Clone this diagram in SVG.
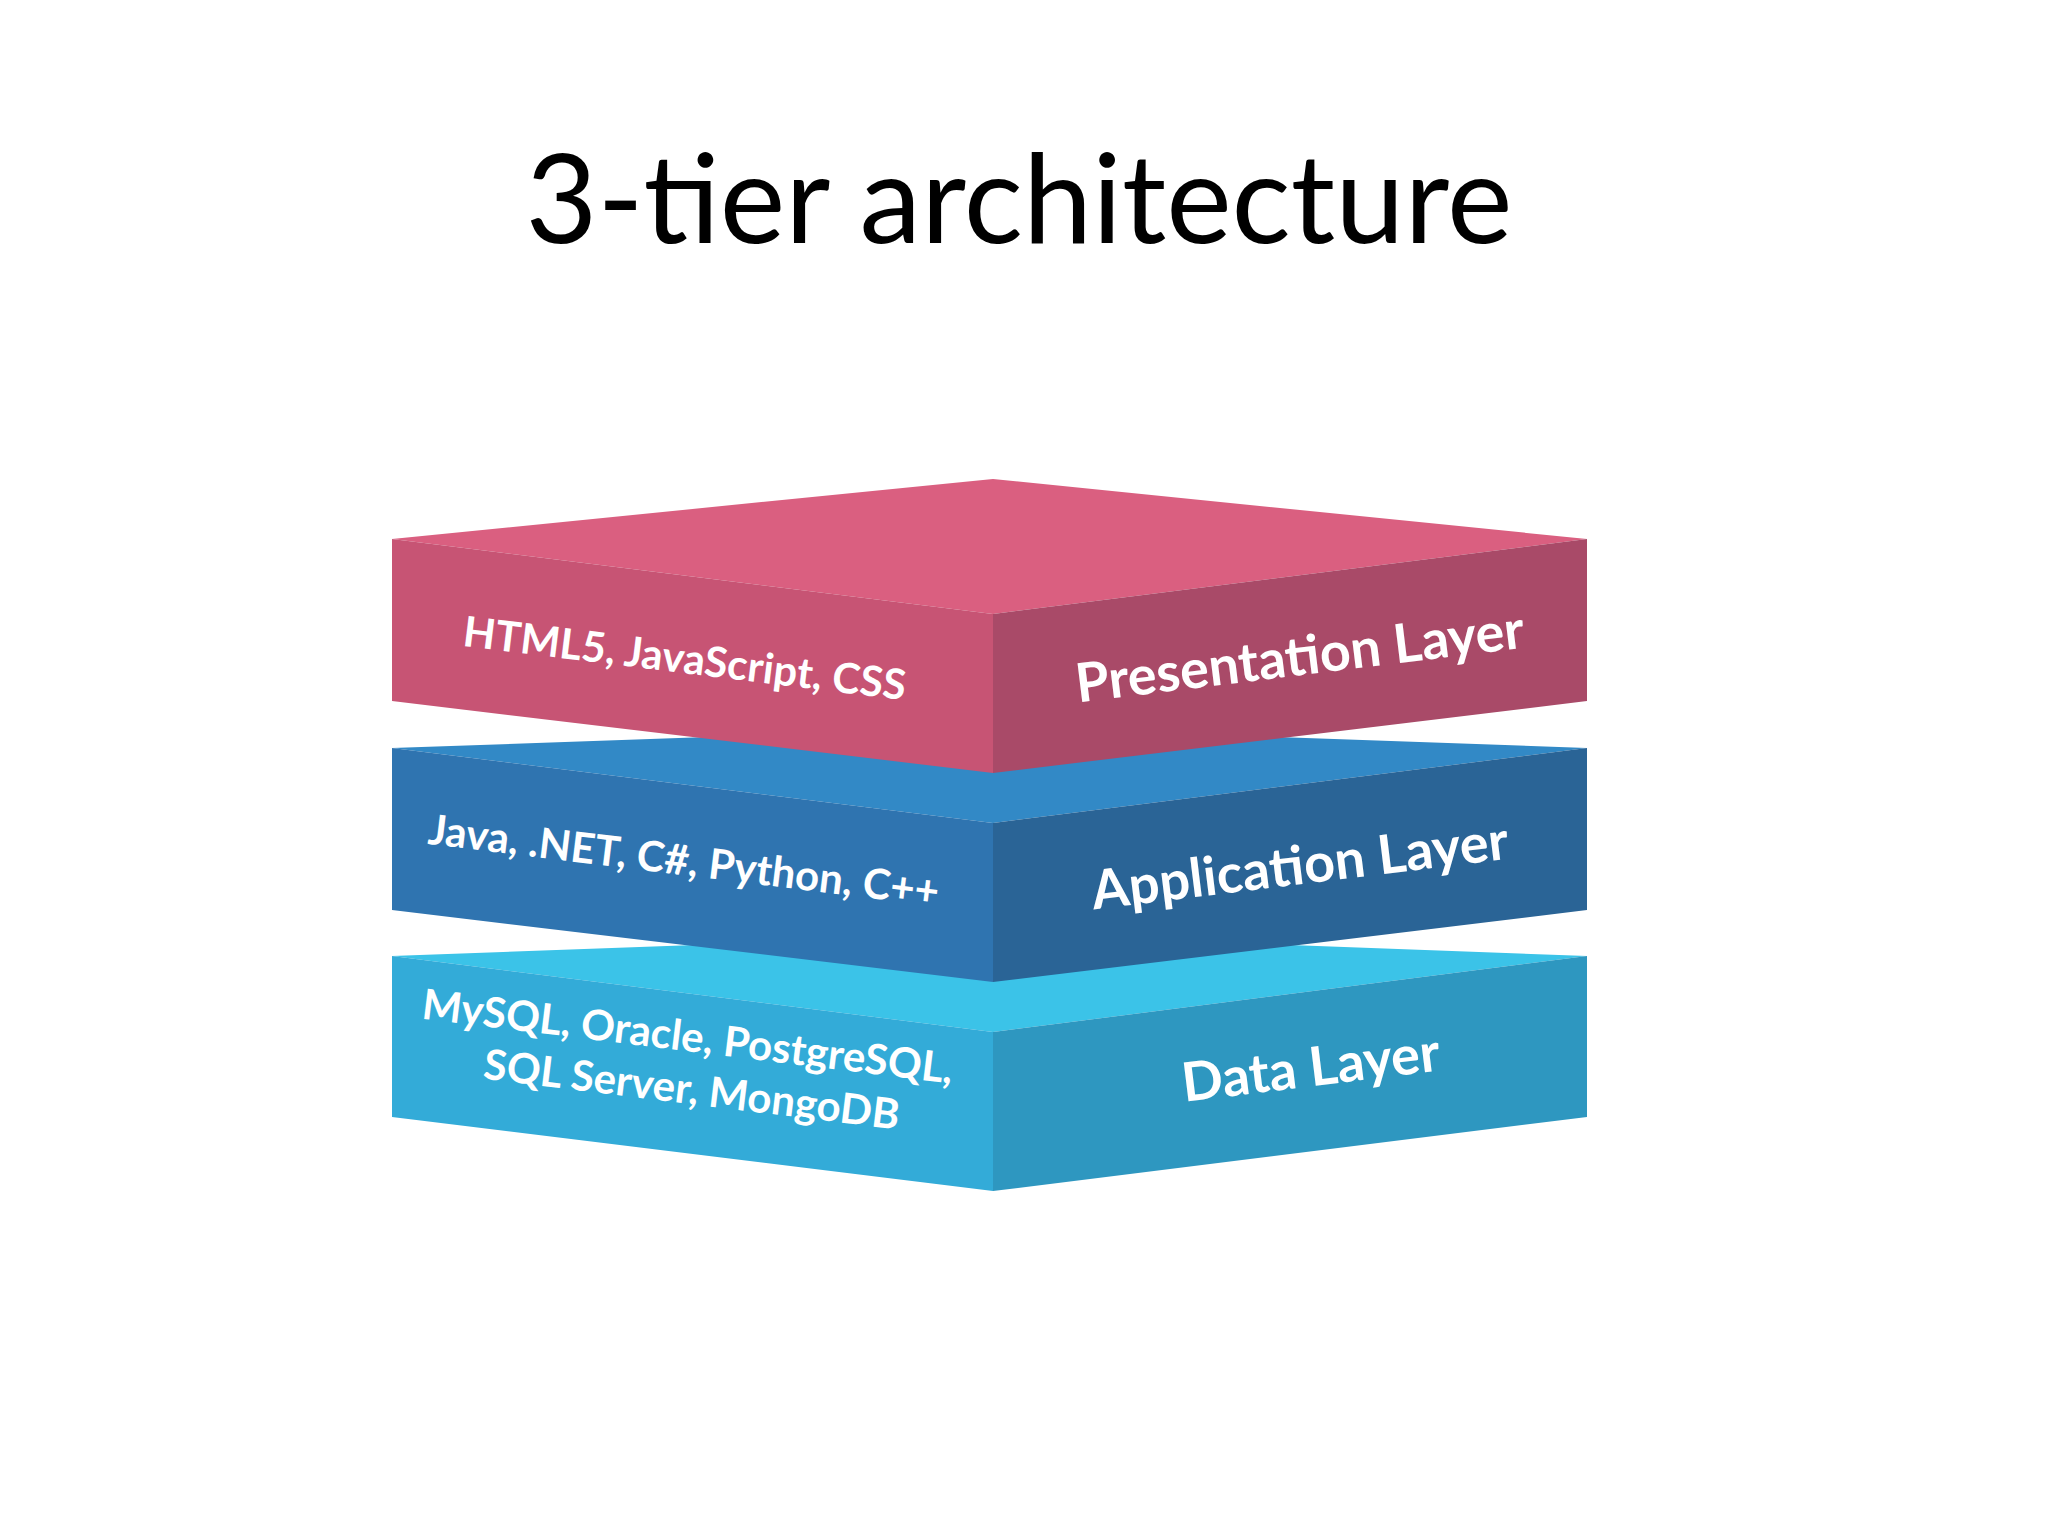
<svg xmlns="http://www.w3.org/2000/svg" width="2048" height="1536" viewBox="0 0 2048 1536">
<style>
.t{font-family:Lato,"Open Sans",sans-serif;fill:#fff;font-weight:bold;text-anchor:middle}
.s{font-size:42px}.b{font-size:54px}
</style>
<rect width="2048" height="1536" fill="#fff"/>
<text x="1019" y="243" font-family="Lato,sans-serif" font-size="124" text-anchor="middle" fill="#000">3-tier architecture</text>
<g id="data">
<polygon points="392,956 993,934 1587,956 993,1032" fill="#3bc3e8"/>
<polygon points="392,956 993,1032 993,1191 392,1117" fill="#33abd8"/>
<polygon points="993,1032 1587,956 1587,1117 993,1191" fill="#2e97c0"/>
<text class="t s" transform="translate(686,1051) rotate(7)">MySQL, Oracle, PostgreSQL,</text>
<text class="t s" transform="translate(690,1104) rotate(7)">SQL Server, MongoDB</text>
<text class="t b" transform="translate(1313,1086) rotate(-7)">Data Layer</text>
</g>
<g id="app">
<polygon points="392,748 993,727 1587,748 993,823" fill="#3289c6"/>
<polygon points="392,748 993,823 993,982 392,910" fill="#2f74b0"/>
<polygon points="993,823 1587,748 1587,910 993,982" fill="#2a6496"/>
<text class="t s" transform="translate(682,875) rotate(7)">Java, .NET, C#, Python, C++</text>
<text class="t b" transform="translate(1302,884) rotate(-7)">Application Layer</text>
</g>
<g id="pres">
<polygon points="392,539 993,479 1587,539 993,614" fill="#da5f80"/>
<polygon points="392,539 993,614 993,773 392,701" fill="#c75474"/>
<polygon points="993,614 1587,539 1587,701 993,773" fill="#a94a68"/>
<text class="t s" transform="translate(683,673) rotate(7)">HTML5, JavaScript, CSS</text>
<text class="t b" transform="translate(1302,675) rotate(-7)">Presentation Layer</text>
</g>
<g id="connectors"/>
</svg>
